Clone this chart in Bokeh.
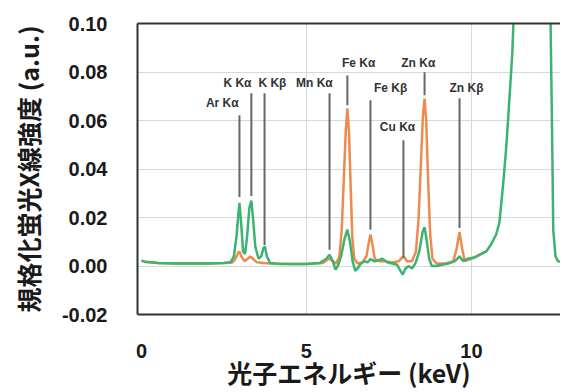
from bokeh.plotting import figure
from bokeh.models import LinearAxis, FixedTicker, Range1d
from bokeh.embed import file_html
from bokeh.resources import INLINE
from bokeh.core.properties import value

# ---- data ----
green_kev = [0.0, 0.1, 0.5, 1.0, 1.5, 2.0, 2.5, 2.7, 2.8, 2.88, 2.94, 2.97, 3.02, 3.08, 3.14,
             3.2, 3.27, 3.33, 3.38, 3.45, 3.55, 3.63, 3.7, 3.74, 3.8, 3.9, 4.2, 4.6, 5.0, 5.4,
             5.6, 5.7, 5.8, 5.88, 5.95, 6.05, 6.15, 6.24, 6.32, 6.4, 6.48, 6.55, 6.65, 6.75,
             6.85, 6.94, 7.05, 7.15, 7.3, 7.45, 7.6, 7.75, 7.85, 7.92, 8.0, 8.1, 8.2, 8.3,
             8.42, 8.52, 8.58, 8.64, 8.72, 8.8, 8.95, 9.1, 9.3, 9.5, 9.64, 9.75, 9.9, 10.1,
             10.3, 10.45, 10.6, 10.75, 10.85, 10.97, 11.05, 11.12, 11.18, 11.24, 11.3, 11.4,
             11.6, 12.0, 12.3, 12.4, 12.45, 12.48, 12.55, 12.62, 12.9]
green_val = [0.0022, 0.0018, 0.0012, 0.0010, 0.0010, 0.0010, 0.0012, 0.0015, 0.004, 0.012, 0.022,
             0.026, 0.018, 0.006, 0.005, 0.012, 0.024, 0.027, 0.020, 0.008, 0.003, 0.004, 0.0075,
             0.008, 0.004, 0.0012, 0.0008, 0.0008, 0.0008, 0.0012, 0.003, 0.0046, 0.002, -0.0015,
             0.0, 0.004, 0.011, 0.015, 0.010, 0.002, -0.002, -0.001, 0.001, 0.002, 0.0015, 0.0028,
             0.002, 0.0022, 0.003, 0.0015, 0.001, 0.0005, -0.002, -0.0035, -0.001, 0.0, -0.001,
             0.001, 0.006, 0.014, 0.016, 0.011, 0.003, 0.0, 0.0, 0.0005, 0.001, 0.002, 0.004,
             0.002, 0.003, 0.0035, 0.005, 0.006, 0.009, 0.013, 0.018, 0.035, 0.048, 0.062, 0.075,
             0.088, 0.11, 0.15, 0.22, 0.30, 0.20, 0.10, 0.05, 0.015, 0.004, 0.002, 0.0015]

orange_kev = [0.0, 0.1, 0.5, 1.0, 2.0, 2.5, 2.75, 2.85, 2.93, 2.97, 3.03, 3.12, 3.22, 3.3, 3.38,
              3.5, 3.7, 3.9, 4.5, 5.0, 5.5, 5.62, 5.7, 5.8, 5.9, 6.0, 6.07, 6.13, 6.19, 6.24,
              6.29, 6.34, 6.39, 6.45, 6.55, 6.7, 6.82, 6.88, 6.94, 7.0, 7.07, 7.2, 7.4, 7.6,
              7.8, 7.94, 8.05, 8.2, 8.32, 8.4, 8.47, 8.53, 8.58, 8.63, 8.69, 8.75, 8.82, 8.95,
              9.2, 9.45, 9.55, 9.64, 9.72, 9.8, 10.0, 10.3, 10.45]
orange_val = [0.0022, 0.0018, 0.0012, 0.001, 0.001, 0.0012, 0.0014, 0.003, 0.0055, 0.006, 0.004,
              0.002, 0.003, 0.004, 0.003, 0.0015, 0.0012, 0.001, 0.0008, 0.0008, 0.0012, 0.0025,
              0.003, 0.002, 0.001, 0.004, 0.015, 0.035, 0.055, 0.065, 0.055, 0.033, 0.012, 0.003,
              0.001, 0.0015, 0.004, 0.009, 0.013, 0.009, 0.003, 0.002, 0.002, 0.0015, 0.002, 0.004,
              0.002, 0.002, 0.006, 0.020, 0.042, 0.062, 0.069, 0.060, 0.035, 0.013, 0.003, 0.001,
              0.001, 0.002, 0.007, 0.014, 0.007, 0.002, 0.003, 0.005, 0.006]

# peak annotations
label_names = ["Ar K\u03b1", "K K\u03b1", "K K\u03b2", "Mn K\u03b1", "Fe K\u03b1", "Fe K\u03b2",
               "Cu K\u03b1", "Zn K\u03b1", "Zn K\u03b2"]
label_kev = [2.97, 3.33, 3.73, 5.70, 6.24, 6.94, 7.94, 8.58, 9.64]
label_text_x = [2.45, 2.91, 3.97, 5.24, 6.58, 7.55, 7.76, 8.39, 9.85]
label_text_y = [0.0671, 0.0753, 0.0753, 0.0753, 0.0836, 0.0733, 0.0573, 0.0836, 0.0733]
line_top = [0.0622, 0.0712, 0.0712, 0.0712, 0.0786, 0.0684, 0.0519, 0.0799, 0.0692]
line_bottom = [0.0285, 0.0289, 0.0087, 0.0067, 0.0663, 0.0149, 0.0034, 0.0704, 0.0157]

x_ticks = [0, 5, 10]
y_ticks = [-0.02, 0.0, 0.02, 0.04, 0.06, 0.08, 0.10]
y_tick_labels = {-0.02: "-0.02", 0.0: "0.00", 0.02: "0.02", 0.04: "0.04",
                 0.06: "0.06", 0.08: "0.08", 0.1: "0.10"}

p = figure(width=560, height=392, output_backend="svg", toolbar_location=None,
           x_range=Range1d(-0.12, 12.70), y_range=Range1d(-0.02, 0.10),
           min_border_left=137, min_border_top=23, min_border_bottom=77, min_border_right=0,
           x_axis_label="光子エネルギー (keV)", y_axis_label="規格化蛍光X線強度 (a.u.)")
p.outline_line_color = None
p.background_fill_color = "white"
p.border_fill_color = "white"

p.xgrid.ticker = FixedTicker(ticks=[5, 10])
p.ygrid.ticker = FixedTicker(ticks=y_ticks)
p.grid.grid_line_color = "#d8d8d8"
p.grid.grid_line_width = 1

for ax in (p.xaxis[0], p.yaxis[0]):
    ax.axis_line_color = "#333333"
    ax.axis_line_width = 2
    ax.major_tick_line_color = None
    ax.minor_tick_line_color = None
    ax.major_tick_out = 0
    ax.major_tick_in = 0
    ax.major_label_text_font = "Liberation Sans"
    ax.major_label_text_font_style = "bold"
    ax.major_label_text_font_size = "20px"
    ax.major_label_text_color = "#1a1a1a"
    ax.axis_label_text_font = "Noto Sans CJK JP"
    ax.axis_label_text_font_style = "bold"
    ax.axis_label_text_font_size = "25px"
    ax.axis_label_text_color = "#1a1a1a"

p.xaxis.ticker = FixedTicker(ticks=x_ticks)
p.xaxis.major_label_standoff = 29
p.xaxis.axis_label_standoff = -7
p.yaxis.ticker = FixedTicker(ticks=y_ticks)
p.yaxis.major_label_overrides = y_tick_labels
p.yaxis.major_label_standoff = 30
p.yaxis.axis_label_standoff = 13

top_axis = LinearAxis(ticker=FixedTicker(ticks=[]), axis_line_color="#333333", axis_line_width=2,
                      major_tick_line_color=None, minor_tick_line_color=None,
                      major_label_text_font_size="0px")
p.add_layout(top_axis, "above")

p.line(orange_kev, orange_val, line_color="#ee8a4e", line_width=2.5)
p.line(green_kev, green_val, line_color="#3cb371", line_width=2.5)

p.segment(x0=label_kev, y0=line_bottom, x1=label_kev, y1=line_top,
          line_color="#666666", line_width=2)
p.text(x=label_text_x, y=label_text_y, text=label_names, text_align="center",
       text_baseline="middle", text_font=value("Liberation Sans"), text_font_style="bold",
       text_font_size="12px", text_color="#333333")

open("out.html", "w").write(file_html(p, INLINE))
